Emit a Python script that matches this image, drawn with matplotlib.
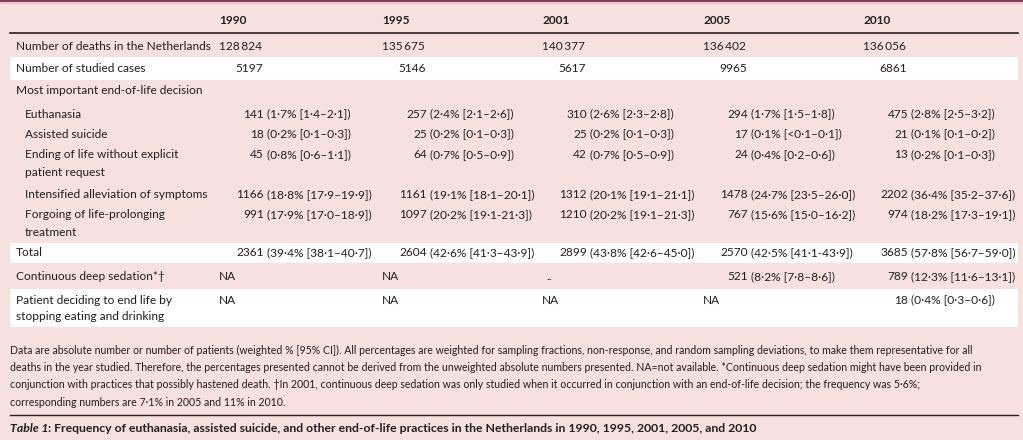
import matplotlib
matplotlib.use("Agg")
import matplotlib.pyplot as plt
from matplotlib.patches import Rectangle

plt.rcParams['font.family'] = ['Lato', 'DejaVu Sans']

# ---------------- data ----------------
years = ["1990", "1995", "2001", "2005", "2010"]
deaths = ["128\u2009824", "135\u2009675", "140\u2009377", "136\u2009402", "136\u2009056"]
studied = ["5197", "5146", "5617", "9965", "6861"]
euthanasia = ["141 (1·7% [1·4–2·1])", "257 (2·4% [2·1–2·6])", "310 (2·6% [2·3–2·8])",
              "294 (1·7% [1·5–1·8])", "475 (2·8% [2·5–3·2])"]
assisted = ["18 (0·2% [0·1–0·3])", "25 (0·2% [0·1–0·3])", "25 (0·2% [0·1–0·3])",
            "17 (0·1% [<0·1–0·1])", "21 (0·1% [0·1–0·2])"]
ending = ["45 (0·8% [0·6–1·1])", "64 (0·7% [0·5–0·9])", "42 (0·7% [0·5–0·9])",
          "24 (0·4% [0·2–0·6])", "13 (0·2% [0·1–0·3])"]
intensified = ["1166 (18·8% [17·9–19·9])", "1161 (19·1% [18·1–20·1])", "1312 (20·1% [19·1–21·1])",
               "1478 (24·7% [23·5–26·0])", "2202 (36·4% [35·2–37·6])"]
forgoing = ["991 (17·9% [17·0–18·9])", "1097 (20·2% [19·1-21·3])", "1210 (20·2% [19·1–21·3])",
            "767 (15·6% [15·0–16·2])", "974 (18·2% [17·3–19·1])"]
total = ["2361 (39·4% [38·1–40·7])", "2604 (42·6% [41·3–43·9])", "2899 (43·8% [42·6–45·0])",
         "2570 (42·5% [41·1-43·9])", "3685 (57·8% [56·7–59·0])"]
sedation = ["NA", "NA", "..", "521 (8·2% [7·8–8·6])", "789 (12·3% [11·6–13·1])"]
stopping = ["NA", "NA", "NA", "NA", "18 (0·4% [0·3–0·6])"]

footnote = [
    "Data are absolute number or number of patients (weighted % [95% CI]). All percentages are weighted for sampling fractions, non-response, and random sampling deviations, to make them representative for all",
    "deaths in the year studied. Therefore, the percentages presented cannot be derived from the unweighted absolute numbers presented. NA=not available. *Continuous deep sedation might have been provided in",
    "conjunction with practices that possibly hastened death. \u2020In 2001, continuous deep sedation was only studied when it occurred in conjunction with an end-of-life decision; the frequency was 5·6%;",
    "corresponding numbers are 7·1% in 2005 and 11% in 2010.",
]
caption_label = "Table 1"
caption_text = ": Frequency of euthanasia, assisted suicide, and other end-of-life practices in the Netherlands in 1990, 1995, 2001, 2005, and 2010"

# ---------------- layout ----------------
W, H = 1023, 440
BG = "#F6E1DE"
TXT = "#231F20"
fig = plt.figure(figsize=(W / 100, H / 100), dpi=100, facecolor=BG)
ax = fig.add_axes([0, 0, 1, 1])
ax.set_xlim(0, W)
ax.set_ylim(H, 0)
ax.axis("off")
ax.set_facecolor(BG)

col_x = [219, 382, 542, 703, 863]
NUM_OFF = 45
FS = 8.6
FS_NOTE = 7.6
FS_CAP = 8.8

# top border
ax.plot([0, W], [1.5, 1.5], color="#8C3B5B", lw=1.6, solid_capstyle="butt")
ax.plot([0, W], [3.2, 3.2], color="#E8C3CB", lw=0.8, solid_capstyle="butt")

# white bands
for y0, y1 in [(57, 80), (243, 263), (289, 327)]:
    ax.add_patch(Rectangle((10, y0), 1008, y1 - y0, facecolor="white", edgecolor="none", zorder=0))

# rules
ax.plot([10, 1018], [33, 33], color="#2B2222", lw=1.2)
ax.plot([10, 1018], [415, 415], color="#2B2222", lw=1.0)

# header
for x, yr in zip(col_x, years):
    ax.text(x, 20, yr, fontsize=FS, fontweight="bold", color=TXT, va="center", ha="left")


def label(y, txt, indent=False):
    ax.text(25 if indent else 16, y, txt, fontsize=FS, color=TXT, va="center", ha="left")


def data_row(y, values):
    for x, v in zip(col_x, values):
        if v in ("NA", ".."):
            ax.text(x + (4 if v == ".." else 0), y, v, fontsize=FS, color=TXT, va="center", ha="left")
            continue
        num, rest = v.split(" ", 1)
        ax.text(x + NUM_OFF, y, num, fontsize=FS, color=TXT, va="center", ha="right")
        ax.text(x + NUM_OFF + 3, y, rest, fontsize=FS, color=TXT, va="center", ha="left")


label(46, "Number of deaths in the Netherlands")
for x, v in zip(col_x, deaths):
    ax.text(x, 46, v, fontsize=FS, color=TXT, va="center", ha="left")

label(69, "Number of studied cases")
for x, v in zip(col_x, studied):
    ax.text(x + NUM_OFF - 1, 69, v, fontsize=FS, color=TXT, va="center", ha="right")

label(90, "Most important end-of-life decision")

label(114, "Euthanasia", True)
data_row(114, euthanasia)
label(134, "Assisted suicide", True)
data_row(134, assisted)
label(155, "Ending of life without explicit", True)
label(173, "patient request", True)
data_row(155, ending)
label(195, "Intensified alleviation of symptoms", True)
data_row(195, intensified)
label(215, "Forgoing of life-prolonging", True)
label(233, "treatment", True)
data_row(215, forgoing)

label(253, "Total")
data_row(253, total)
label(277, "Continuous deep sedation*\u2020")
data_row(277, sedation)
label(300, "Patient deciding to end life by")
label(316, "stopping eating and drinking")
data_row(300, stopping)

# footnotes
for i, line in enumerate(footnote):
    ax.text(10, 350 + i * 17.5, line, fontsize=FS_NOTE, color=TXT, va="center", ha="left")

# caption
t1 = ax.text(10, 429, caption_label, fontsize=FS_CAP, fontweight="bold", fontstyle="italic",
             color=TXT, va="center", ha="left")
fig.canvas.draw()
bb = t1.get_window_extent()
x_end = ax.transData.inverted().transform((bb.x1, bb.y0))[0]
ax.text(x_end, 429, caption_text, fontsize=FS_CAP, fontweight="bold", color=TXT, va="center", ha="left")

fig.savefig("out.png", dpi=100, facecolor=BG)
